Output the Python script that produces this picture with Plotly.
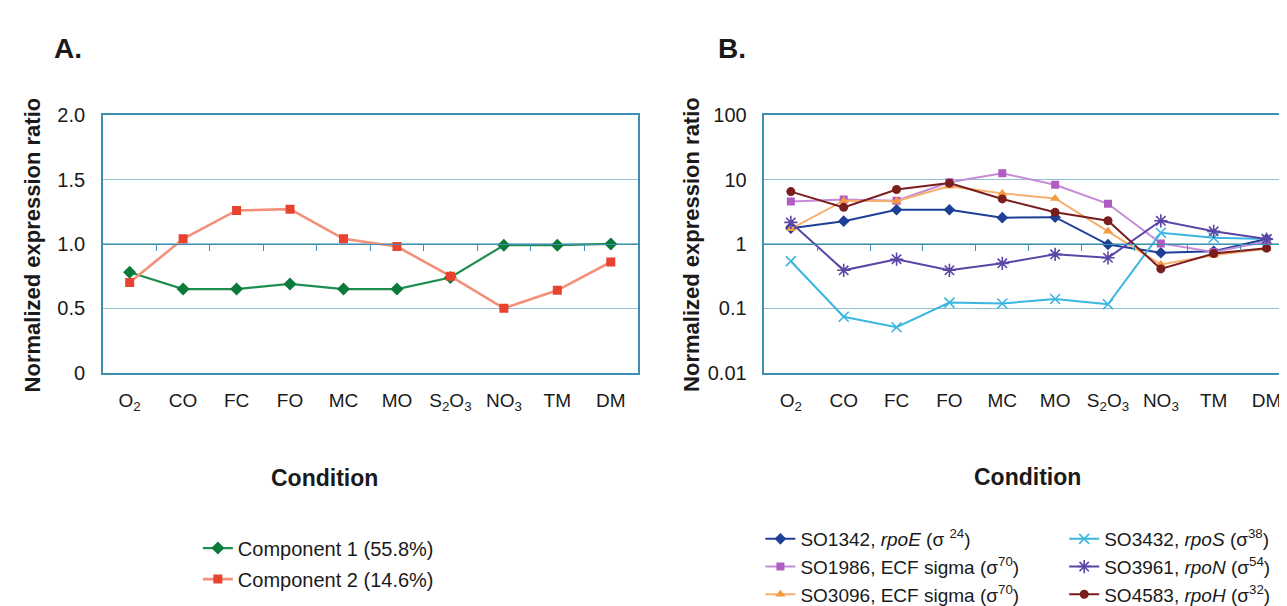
import plotly.graph_objects as go

# ---------------- data ----------------
conditions = ["O<sub>2</sub>", "CO", "FC", "FO", "MC", "MO",
              "S<sub>2</sub>O<sub>3</sub>", "NO<sub>3</sub>", "TM", "DM"]
idx = list(range(len(conditions)))

comp1 = [0.78, 0.65, 0.65, 0.69, 0.65, 0.65, 0.74, 0.99, 0.99, 1.00]
comp2 = [0.70, 1.04, 1.26, 1.27, 1.04, 0.98, 0.75, 0.50, 0.64, 0.86]

so1342_rpoE = [1.76, 2.26, 3.4, 3.4, 2.56, 2.6, 0.98, 0.73, 0.77, 1.19]
so1986_ecf = [4.57, 4.9, 4.7, 9.1, 12.5, 8.3, 4.2, 1.02, 0.75, 1.09]
so3096_ecf = [1.72, 4.7, 4.6, 7.9, 6.1, 5.1, 1.57, 0.48, 0.67, 0.84]
so3432_rpoS = [0.54, 0.074, 0.051, 0.123, 0.119, 0.14, 0.116, 1.49, 1.25, 1.19]
so3961_rpoN = [2.16, 0.39, 0.58, 0.39, 0.50, 0.69, 0.61, 2.29, 1.57, 1.19]
so4583_rpoH = [6.5, 3.7, 7.0, 8.8, 5.0, 3.1, 2.29, 0.41, 0.71, 0.86]

linA_ticks = [0, 0.5, 1.0, 1.5, 2.0]
linA_text = ["0", "0.5", "1.0", "1.5", "2.0"]
logB_ticks = [0.01, 0.1, 1, 10, 100]
logB_text = ["0.01", "0.1", "1", "10", "100"]
boundaries = [i + 0.5 for i in idx[:-1]]

W, H = 1287, 606
FONT = "Liberation Sans, Arial, sans-serif"
FRAME = "#3f8fb0"
GRID = "#8fc0d4"

def px(x):
    return x / W

def py(y):
    return 1 - y / H

ydom = [py(373.5), py(101.5)]
ymid = (ydom[0] + ydom[1]) / 2
xdomA = [px(95), px(630)]
xdomB = [px(757), px(1286)]

fig = go.Figure()

# ---------------- panel A ----------------
fig.add_trace(go.Scatter(
    x=idx, y=comp1, name="Component 1 (55.8%)", mode="lines+markers",
    line=dict(color="#1f8c50", width=2.2),
    marker=dict(symbol="diamond", size=10, color="#0b7a3a"),
    xaxis="x", yaxis="y", legend="legend", legendgroup="a1"))
fig.add_trace(go.Scatter(
    x=idx, y=comp2, name="Component 2 (14.6%)", mode="lines+markers",
    line=dict(color="#f29079", width=2.6),
    marker=dict(symbol="square", size=9, color="#e8432e"),
    xaxis="x", yaxis="y", legend="legend", legendgroup="a2"))
# carrier for axis crossing at 1.0
fig.add_trace(go.Scatter(x=idx, y=comp1, mode="lines", line=dict(width=0),
                         opacity=0, hoverinfo="skip", showlegend=False,
                         xaxis="x3", yaxis="y"))

# ---------------- panel B ----------------
seriesB = [
    ("SO1342, <i>rpoE</i> (σ <sup>24</sup>)", so1342_rpoE, "#1d3f96", "#1d3f96", "diamond", 9, "legend2"),
    ("SO1986, ECF sigma (σ<sup>70</sup>)", so1986_ecf, "#c68bd6", "#b05cc2", "square", 8, "legend2"),
    ("SO3096, ECF sigma (σ<sup>70</sup>)", so3096_ecf, "#f5b071", "#f39a3e", "triangle-up", 9, "legend2"),
    ("SO3432, <i>rpoS</i> (σ<sup>38</sup>)", so3432_rpoS, "#3ab6e0", "#3ab6e0", "x-thin-open", 10, "legend3"),
    ("SO3961, <i>rpoN</i> (σ<sup>54</sup>)", so3961_rpoN, "#5a45a6", "#5a45a6", "asterisk-open", 11, "legend3"),
    ("SO4583, <i>rpoH</i> (σ<sup>32</sup>)", so4583_rpoH, "#7a1d1d", "#7a1d1d", "circle", 9, "legend3"),
]
for k, (name, vals, lc, mc, sym, sz, leg) in enumerate(seriesB):
    mk = dict(symbol=sym, size=sz, color=mc)
    if sym.endswith("open"):
        mk["line"] = dict(color=mc, width=1.6)
    fig.add_trace(go.Scatter(
        x=idx, y=vals, name=name, mode="lines+markers",
        line=dict(color=lc, width=2), marker=mk,
        xaxis="x2", yaxis="y2", legend=leg, legendgroup="b%d" % k))
fig.add_trace(go.Scatter(x=idx, y=so1342_rpoE, mode="lines", line=dict(width=0),
                         opacity=0, hoverinfo="skip", showlegend=False,
                         xaxis="x4", yaxis="y2"))

tickfont = dict(family=FONT, size=20, color="#1a1a1a")
xtickfont = dict(family=FONT, size=19, color="#1a1a1a")

common_x = dict(range=[-0.5, 9.5], tickmode="array", tickvals=idx, ticktext=conditions,
                showgrid=False, zeroline=False, showline=True, linecolor=FRAME,
                linewidth=1.5, mirror=True, ticks="", tickfont=xtickfont,
                ticklabelstandoff=10, fixedrange=True)
cross_x = dict(range=[-0.5, 9.5], tickmode="array", tickvals=boundaries,
               showticklabels=False, showgrid=False, zeroline=False,
               showline=True, linecolor=FRAME, linewidth=1.2,
               ticks="outside", ticklen=6, tickcolor=FRAME, tickwidth=1.2,
               anchor="free", position=ymid, side="bottom")

fig.update_layout(
    width=W, height=H,
    margin=dict(l=0, r=0, t=0, b=0),
    paper_bgcolor="white", plot_bgcolor="white",
    font=dict(family=FONT, color="#1a1a1a"),
    xaxis=dict(domain=xdomA, anchor="y", **common_x),
    xaxis2=dict(domain=xdomB, anchor="y2", **common_x),
    xaxis3=dict(domain=xdomA, overlaying="x", **cross_x),
    xaxis4=dict(domain=xdomB, overlaying="x2", **cross_x),
    yaxis=dict(domain=ydom, anchor="x", range=[0, 2], tickmode="array",
               tickvals=linA_ticks, ticktext=linA_text, showgrid=True,
               gridcolor=GRID, gridwidth=1.2, zeroline=False, showline=True,
               linecolor=FRAME, linewidth=1.5, mirror=True, ticks="",
               tickfont=tickfont, ticklabelstandoff=12, fixedrange=True),
    yaxis2=dict(domain=ydom, anchor="x2", type="log", range=[-2, 2], tickmode="array",
                tickvals=logB_ticks, ticktext=logB_text, showgrid=True,
                gridcolor=GRID, gridwidth=1.2, zeroline=False, showline=True,
                linecolor=FRAME, linewidth=1.5, mirror=True, ticks="",
                tickfont=tickfont, ticklabelstandoff=12, fixedrange=True),
    legend=dict(x=px(190), y=py(538), xanchor="left", yanchor="top",
                font=dict(family=FONT, size=20, color="#1a1a1a"),
                tracegroupgap=2, bgcolor="rgba(0,0,0,0)"),
    legend2=dict(x=px(753), y=py(529), xanchor="left", yanchor="top",
                 font=dict(family=FONT, size=19, color="#1a1a1a"),
                 tracegroupgap=0, bgcolor="rgba(0,0,0,0)"),
    legend3=dict(x=px(1057), y=py(529), xanchor="left", yanchor="top",
                 font=dict(family=FONT, size=19, color="#1a1a1a"),
                 tracegroupgap=0, bgcolor="rgba(0,0,0,0)"),
    showlegend=True,
)

annos = [
    dict(text="<b>A.</b>", x=px(44), y=py(31), xanchor="left", yanchor="middle",
         font=dict(size=28)),
    dict(text="<b>B.</b>", x=px(709), y=py(31), xanchor="left", yanchor="middle",
         font=dict(size=28)),
    dict(text="<b>Normalized expression ratio</b>", x=px(24), y=py(238),
         xanchor="center", yanchor="middle", textangle=-90, font=dict(size=22)),
    dict(text="<b>Normalized expression ratio</b>", x=px(684), y=py(238),
         xanchor="center", yanchor="middle", textangle=-90, font=dict(size=22)),
    dict(text="<b>Condition</b>", x=px(317), y=py(485), xanchor="center",
         yanchor="middle", font=dict(size=23)),
    dict(text="<b>Condition</b>", x=px(1020), y=py(484), xanchor="center",
         yanchor="middle", font=dict(size=23)),
]
for a in annos:
    a.update(xref="paper", yref="paper", showarrow=False)
    a["font"].update(family=FONT, color="#1a1a1a")
fig.update_layout(annotations=annos)

fig.write_html("out.html")
